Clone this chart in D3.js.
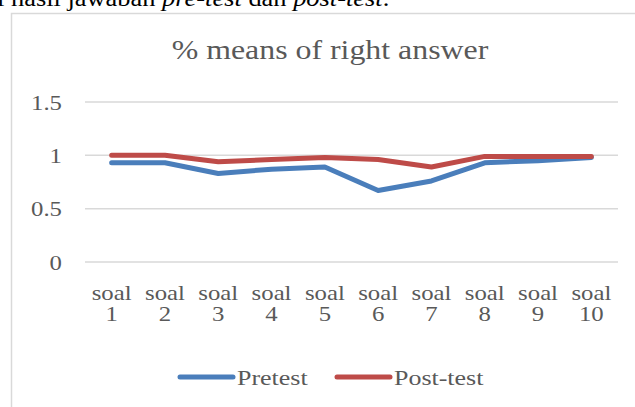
<!DOCTYPE html>
<html>
<head>
<meta charset="utf-8">
<script src="https://cdn.jsdelivr.net/npm/d3@7"></script>
<style>
  body { margin: 0; background: #fff; }
  svg { display: block; }
  text { font-family: "Liberation Serif", "Times New Roman", serif; fill: #595959; }
</style>
</head>
<body>
<div id="chart"></div>
<script>
// data
const categories = ["soal 1", "soal 2", "soal 3", "soal 4", "soal 5", "soal 6", "soal 7", "soal 8", "soal 9", "soal 10"];
const pretest  = [0.93, 0.93, 0.83, 0.87, 0.89, 0.67, 0.76, 0.93, 0.95, 0.98];
const posttest = [1.00, 1.00, 0.94, 0.96, 0.98, 0.96, 0.89, 0.99, 0.99, 0.99];
const yTicks = [0, 0.5, 1, 1.5];
const seriesNames = ["Pretest", "Post-test"];
const colors = ["#4a7ebb", "#be4b48"];

const W = 635, H = 407;
const sx = 1.18;  // the source picture is stretched sideways

let svg = d3.select("#chart").append("svg")
    .attr("width", W)
    .attr("height", H);

// helper: text stretched horizontally like the picture
let label = function(x, y, str, size, anchor){
    return svg.append("text")
        .attr("transform", "translate(" + x + "," + y + ")scale(" + sx + ",1)")
        .attr("text-anchor", anchor || "start")
        .style("font-size", size + "px")
        .text(str);
};

// caption line cut off at the top (as in the source)
let cap = svg.append("text")
    .attr("transform", "translate(-3,6)scale(" + sx + ",1)")
    .style("font-size", "22.4px")
    .style("fill", "#000");
cap.append("tspan").text("i hasil jawaban ");
cap.append("tspan").style("font-style", "italic").text("pre-test");
cap.append("tspan").text(" dan ");
cap.append("tspan").style("font-style", "italic").text("post-test");
cap.append("tspan").text(".");

// chart frame
svg.append("rect")
    .attr("x", 11.5).attr("y", 13.5)
    .attr("width", 640).attr("height", 420)
    .attr("fill", "none")
    .attr("stroke", "#d9d9d9")
    .attr("stroke-width", 1.5);

// title
label(330, 59, "% means of right answer", 27, "middle");

// scales
let x = d3.scaleBand().domain(categories).range([85, 618]);
let y = d3.scaleLinear().domain([0, 1.5]).range([262, 102]);
let cx = function(d){ return x(d) + x.bandwidth() / 2; };

// gridlines
svg.selectAll(".grid")
    .data(yTicks)
    .enter()
    .append("line")
    .attr("class", "grid")
    .attr("x1", 85).attr("x2", 618)
    .attr("y1", d => y(d)).attr("y2", d => y(d))
    .attr("stroke", "#d9d9d9")
    .attr("stroke-width", 1.5);

yTicks.forEach(function(t){
    label(62, y(t) + 7.5, d3.format("")(t), 21, "end");
});

// category labels (two lines)
categories.forEach(function(c){
    let parts = c.split(" ");
    label(cx(c), 300, parts[0], 21, "middle");
    label(cx(c), 321, parts[1], 21, "middle");
});

// lines
let series = [pretest, posttest];
let line = d3.line()
    .x((d, i) => cx(categories[i]))
    .y(d => y(d));

series.forEach(function(s, k){
    svg.append("path")
        .datum(s)
        .attr("fill", "none")
        .attr("stroke", colors[k])
        .attr("stroke-width", 5)
        .attr("stroke-linejoin", "round")
        .attr("stroke-linecap", "round")
        .attr("d", line);
});

// legend
let legendX = [180, 337];
seriesNames.forEach(function(n, k){
    svg.append("line")
        .attr("x1", legendX[k]).attr("x2", legendX[k] + 53)
        .attr("y1", 377).attr("y2", 377)
        .attr("stroke", colors[k])
        .attr("stroke-width", 5)
        .attr("stroke-linecap", "round");
    label(legendX[k] + 57, 385, n, 22, "start");
});
</script>
</body>
</html>
